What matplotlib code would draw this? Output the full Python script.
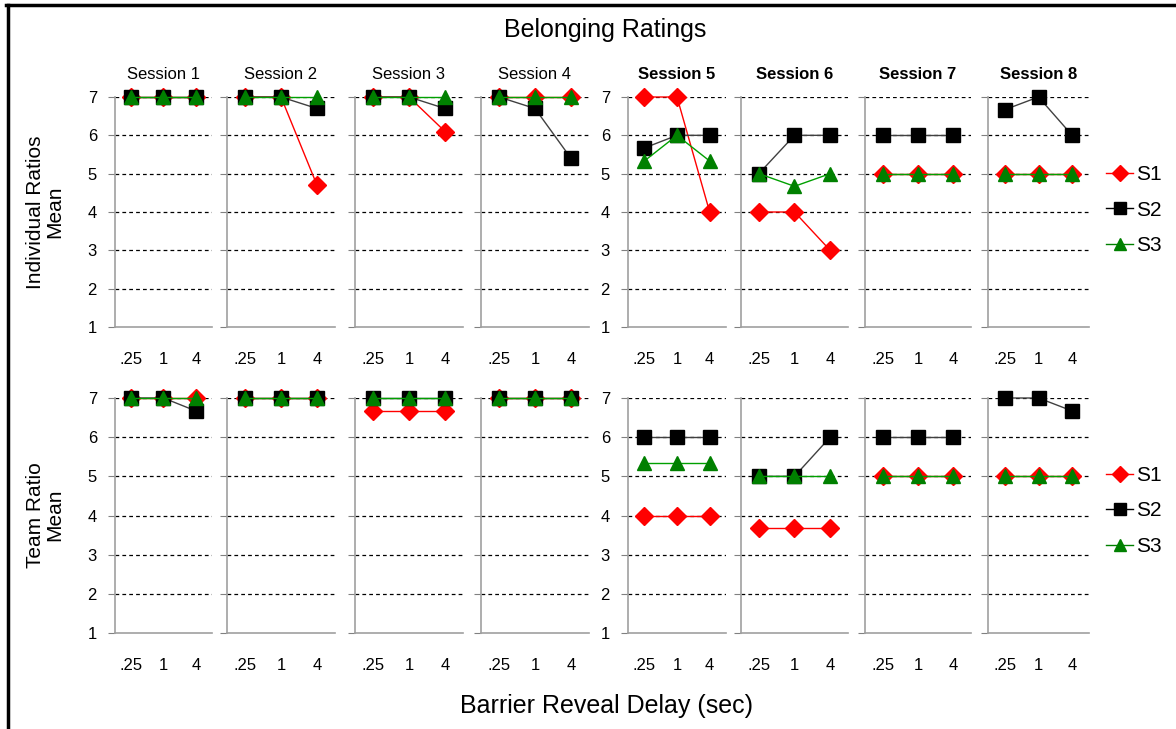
import matplotlib
matplotlib.use("Agg")
import matplotlib.pyplot as plt
from matplotlib.lines import Line2D

plt.rcParams['font.family'] = ['Liberation Sans', 'DejaVu Sans']

delays = ['.25', '1', '4']
sessions = ['Session 1', 'Session 2', 'Session 3', 'Session 4',
            'Session 5', 'Session 6', 'Session 7', 'Session 8']

# individual ratios mean, per session: [.25, 1, 4]
ind_s1 = [[7, 7, 7], [7, 7, 4.7], [7, 7, 6.1], [7, 7, 7],
          [7, 7, 4], [4, 4, 3], [5, 5, 5], [5, 5, 5]]
ind_s2 = [[7, 7, 7], [7, 7, 6.7], [7, 7, 6.7], [7, 6.7, 5.4],
          [5.67, 6, 6], [5, 6, 6], [6, 6, 6], [6.67, 7, 6]]
ind_s3 = [[7, 7, 7], [7, 7, 7], [7, 7, 7], [7, 7, 7],
          [5.33, 6, 5.33], [5, 4.67, 5], [5, 5, 5], [5, 5, 5]]

# team ratio mean
team_s1 = [[7, 7, 7], [7, 7, 7], [6.67, 6.67, 6.67], [7, 7, 7],
           [4, 4, 4], [3.67, 3.67, 3.67], [5, 5, 5], [5, 5, 5]]
team_s2 = [[7, 7, 6.67], [7, 7, 7], [7, 7, 7], [7, 7, 7],
           [6, 6, 6], [5, 5, 6], [6, 6, 6], [7, 7, 6.67]]
team_s3 = [[7, 7, 7], [7, 7, 7], [7, 7, 7], [7, 7, 7],
           [5.33, 5.33, 5.33], [5, 5, 5], [5, 5, 5], [5, 5, 5]]

series = [('S1', '#FF0000', 'D', 9), ('S2', '#000000', 's', 10), ('S3', '#008000', '^', 10)]
line_cols = {'S1': '#FF0000', 'S2': '#404040', 'S3': '#00A000'}

W, H = 1176, 729
fig = plt.figure(figsize=(11.76, 7.29), dpi=100)

lefts = [115, 227, 355, 481, 628, 741, 865, 988]
widths = [97, 108, 108, 108, 98, 107, 106, 101]
rows = [(97, 327, [ind_s1, ind_s2, ind_s3]), (398, 633, [team_s1, team_s2, team_s3])]

for r, (ytop, ybot, data) in enumerate(rows):
    for i in range(8):
        ax = fig.add_axes([lefts[i] / W, 1 - ybot / H, widths[i] / W, (ybot - ytop) / H])
        ax.set_xlim(-0.5, 2.5)
        ax.set_ylim(1, 7)
        for k, (name, col, mk, ms) in enumerate(series):
            ax.plot(range(3), data[k][i], color=line_cols[name], lw=1, marker=mk,
                    ms=ms, mfc=col, mec=col, clip_on=False, zorder=3 + k)
        ax.set_yticks(range(1, 8))
        for y in range(2, 8):
            ax.axhline(y, color='black', ls=(0, (3, 2.5)), lw=0.9, zorder=1)
        for s in ['top', 'right']:
            ax.spines[s].set_visible(False)
        ax.spines['left'].set_color('#A0A0A0')
        ax.spines['bottom'].set_color('#A0A0A0')
        ax.spines['left'].set_linewidth(1.2)
        ax.spines['bottom'].set_linewidth(1.2)
        ax.tick_params(axis='y', length=5, color='#808080', labelsize=12, pad=8)
        ax.tick_params(axis='x', length=0, labelsize=12, pad=18)
        ax.set_xticks(range(3))
        ax.set_xticklabels(delays)
        if i not in (0, 4):
            ax.set_yticklabels([])
        if r == 0:
            ax.set_title(sessions[i], fontsize=12, pad=13,
                         fontweight='bold' if i >= 4 else 'normal')

    # legend for the row
    handles = [Line2D([0], [0], color=col, lw=1, marker=mk, ms=ms - 1, mfc=col, mec=col)
               for name, col, mk, ms in series]
    fig.legend(handles, [s[0] for s in series], loc='center left',
               bbox_to_anchor=(1106 / W, 1 - (ytop + 113) / H), frameon=False,
               fontsize=15, handlelength=1.3, handletextpad=0.15, labelspacing=0.8,
               borderpad=0, borderaxespad=0)

fig.text(45 / W, 1 - 212 / H, 'Individual Ratios\nMean', rotation=90, ha='center',
         va='center', fontsize=15, linespacing=1.0)
fig.text(45 / W, 1 - 515 / H, 'Team Ratio\nMean', rotation=90, ha='center',
         va='center', fontsize=15, linespacing=1.0)
fig.text(605 / W, 1 - 30 / H, 'Belonging Ratings', ha='center', va='center', fontsize=18)
fig.text(607 / W, 1 - 706 / H, 'Barrier Reveal Delay (sec)', ha='center', va='center',
         fontsize=18)

# frame lines on the left and top edges
fig.add_artist(Line2D([7.5 / W, 7.5 / W], [0, 1 - 4.5 / H], color='black', lw=2.5))
fig.add_artist(Line2D([6 / W, 1], [1 - 4.5 / H, 1 - 4.5 / H], color='black', lw=2.5))

fig.savefig('out.png', dpi=100)
